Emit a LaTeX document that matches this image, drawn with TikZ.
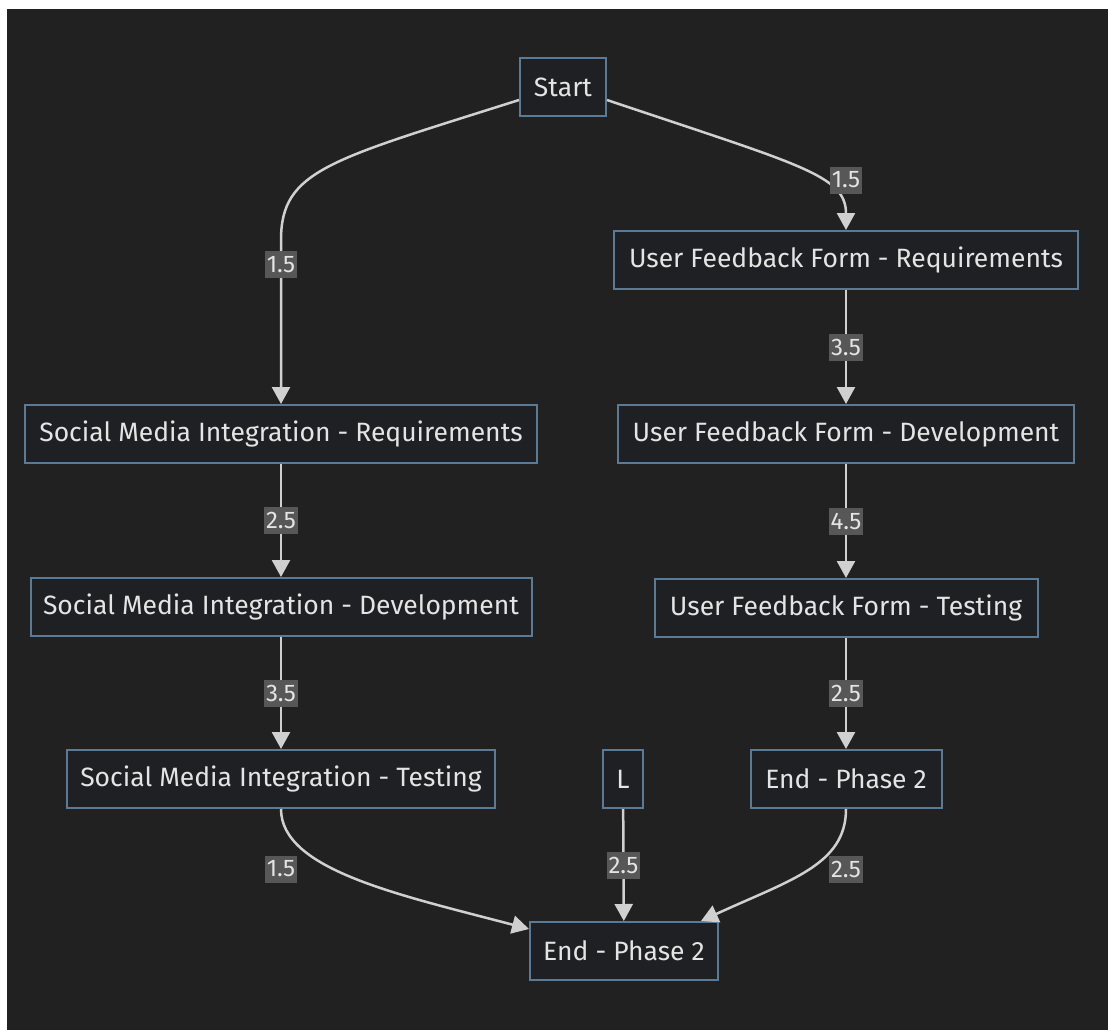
\documentclass[tikz,border=0pt]{standalone}
\usepackage{fontspec}
\setmainfont{Fira Sans}
\usetikzlibrary{arrows.meta}
\definecolor{bgc}{HTML}{212121}
\definecolor{nodefill}{HTML}{1E2023}
\definecolor{nodeborder}{HTML}{5B7A96}
\definecolor{txt}{HTML}{E4E4E4}
\definecolor{edgec}{HTML}{D0D0D0}
\definecolor{lblbg}{HTML}{575757}
\tikzset{
  box/.style={draw=nodeborder, line width=2pt, fill=nodefill, text=txt,
    minimum height=58pt, inner sep=0pt, font=\fontsize{26.5}{30}\selectfont},
  conn/.style={draw=edgec, line width=2.5pt, -{Triangle[length=17pt,width=18pt]}},
  lbl/.style={fill=lblbg, text=txt, inner xsep=2pt, inner ysep=0pt, minimum height=27pt,
    font=\fontsize{24}{26}\selectfont}
}
\begin{document}
\begin{tikzpicture}[x=1pt,y=-1pt]
\useasboundingbox (0,0) rectangle (1108,1030);
\fill[white] (0,0) rectangle (1108,1030);
\fill[bgc] (7,9) rectangle (1108,1030);

\node[box, minimum width=86pt] (start) at (563,87) {Start};
\node[box, minimum width=464pt] (ufreq) at (846,260) {User Feedback Form - Requirements};
\node[box, minimum width=456pt] (ufdev) at (846,434) {User Feedback Form - Development};
\node[box, minimum width=383pt] (uftest) at (846,608) {User Feedback Form - Testing};
\node[box, minimum width=191pt] (endr) at (846,779) {End - Phase 2};
\node[box, minimum width=40pt] (L) at (623,779) {L};
\node[box, minimum width=512pt] (smreq) at (281,434) {Social Media Integration - Requirements};
\node[box, minimum width=501pt] (smdev) at (281,607) {Social Media Integration - Development};
\node[box, minimum width=428pt] (smtest) at (281,779) {Social Media Integration - Testing};
\node[box, minimum width=188pt] (endb) at (624,951) {End - Phase 2};

\draw[conn] ([yshift=-13pt]start.west) .. controls (330,160) and (281,170) .. (281,240)
  -- node[lbl, pos=0.15] {1.5} (smreq.north);
\draw[conn] ([yshift=-13pt]start.east) .. controls (800,165) and (846,175) .. (ufreq.north)
  node[lbl, at={(846,180)}] {1.5};
\draw[conn] (ufreq) -- node[lbl] {3.5} (ufdev);
\draw[conn] (ufdev) -- node[lbl] {4.5} (uftest);
\draw[conn] (uftest) -- node[lbl] {2.5} (endr);
\draw[conn] (smreq) -- node[lbl] {2.5} (smdev);
\draw[conn] (smdev) -- node[lbl] {3.5} (smtest);
\draw[conn] (L) -- node[lbl] {2.5} (endb);
\draw[conn] (smtest.south) .. controls (281,870) and (400,895) .. ([yshift=-8pt]endb.north west)
  node[lbl, at={(281,869)}] {1.5};
\draw[conn] (endr.south) .. controls (846,865) and (790,880) .. ([xshift=-18pt]endb.north east)
  node[lbl, at={(846,869)}] {2.5};
\end{tikzpicture}
\end{document}
